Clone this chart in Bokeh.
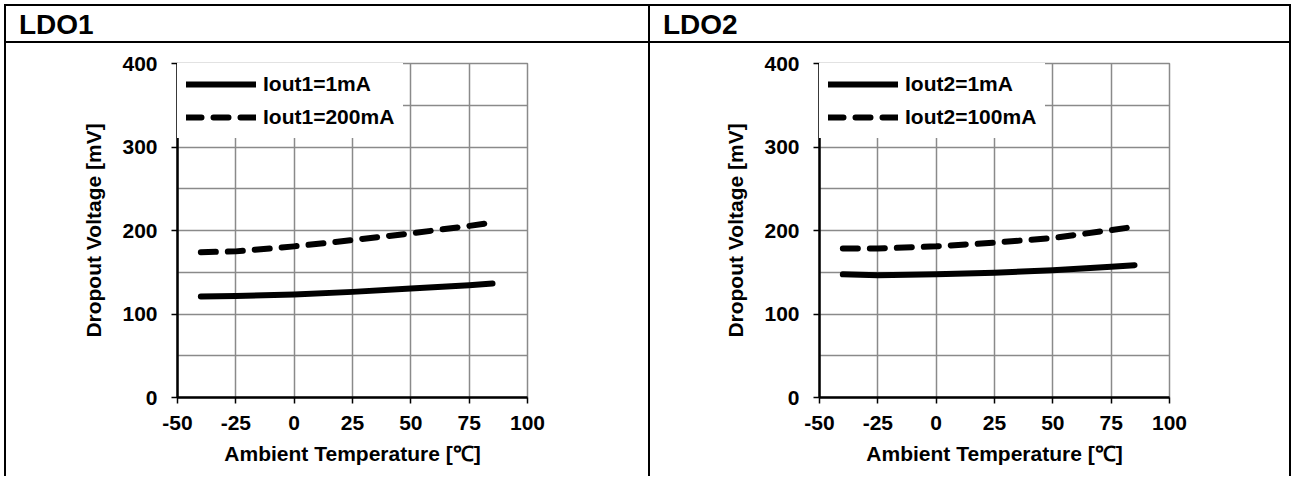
from bokeh.plotting import figure
from bokeh.models import (Range1d, SingleIntervalTicker, FixedTicker, Div, Legend, LegendItem,
                          CustomJSTickFormatter, Spacer)
from bokeh.layouts import row, column
from bokeh.embed import file_html
from bokeh.resources import INLINE

# ---------------- data ----------------
temps = [-40, -25, 0, 25, 50, 75, 85]
ldo1_1mA = [121, 121.5, 123.5, 126.5, 130.5, 134.5, 136.5]
ldo1_200mA = [174, 175, 181, 188.5, 196.5, 205.5, 209.5]
ldo2_1mA = [147.5, 146.5, 147.5, 149.5, 152.5, 156.5, 158.5]
ldo2_100mA = [178.5, 178.5, 181, 185.5, 191, 200.5, 204.5]

titles = ["LDO1", "LDO2"]
labels1 = ["Iout1=1mA", "Iout1=200mA"]
labels2 = ["Iout2=1mA", "Iout2=100mA"]
x_ticks = [-50, -25, 0, 25, 50, 75, 100]
y_ticks = [0, 100, 200, 300, 400]

FONT = "Liberation Sans"
GRID = "#8a8a8a"
FIG_H = 433


def make_fig(width, left, y_solid, y_dash, labels):
    p = figure(width=width, height=FIG_H, output_backend="svg", toolbar_location=None,
               x_range=Range1d(-50, 100), y_range=Range1d(0, 400),
               min_border_left=left, min_border_right=width - left - 350,
               min_border_top=20, min_border_bottom=FIG_H - 20 - 334, margin=0)
    p.outline_line_color = GRID
    p.outline_line_width = 1.5
    p.background_fill_color = "white"
    p.border_fill_color = "white"

    p.xaxis.ticker = FixedTicker(ticks=x_ticks)
    p.yaxis.ticker = FixedTicker(ticks=y_ticks)
    fmt = "return tick.toFixed(0);"
    p.xaxis.formatter = CustomJSTickFormatter(code=fmt)
    p.yaxis.formatter = CustomJSTickFormatter(code=fmt)
    p.xgrid.ticker = SingleIntervalTicker(interval=25)
    p.ygrid.ticker = SingleIntervalTicker(interval=50)
    for g in (p.xgrid, p.ygrid):
        g.grid_line_color = GRID
        g.grid_line_width = 1.5

    for ax in (p.xaxis, p.yaxis):
        ax.axis_line_color = "black"
        ax.axis_line_width = 2.5
        ax.major_tick_line_color = "black"
        ax.major_tick_line_width = 1.5
        ax.major_tick_out = 6
        ax.major_tick_in = 0
        ax.minor_tick_line_color = None
        ax.major_label_text_font = FONT
        ax.major_label_text_font_style = "bold"
        ax.major_label_text_font_size = "21px"
        ax.major_label_text_color = "black"
        ax.axis_label_text_font = FONT
        ax.axis_label_text_font_style = "bold"
        ax.axis_label_text_font_size = "21px"
        ax.axis_label_text_color = "black"
    p.yaxis.major_label_standoff = 14
    p.xaxis.major_label_standoff = 12
    p.yaxis.axis_label_standoff = 14
    p.xaxis.axis_label_standoff = 9
    p.xaxis.axis_label = "Ambient Temperature [\u2103]"
    p.yaxis.axis_label = "Dropout Voltage [mV]"

    r1 = p.line(temps, y_solid, line_color="black", line_width=6, line_cap="round", line_join="round")
    r2 = p.line(temps, y_dash, line_color="black", line_width=6, line_cap="round",
                line_join="round", line_dash="15 12")

    leg = Legend(items=[LegendItem(label=labels[0], renderers=[r1]),
                        LegendItem(label=labels[1], renderers=[r2])],
                 location="top_left", margin=0, padding=0, spacing=9,
                 glyph_width=70, glyph_height=22, label_standoff=7,
                 label_text_font=FONT, label_text_font_style="bold",
                 label_text_font_size="21px", label_text_color="black",
                 border_line_color="white", border_line_width=9,
                 background_fill_color="white", background_fill_alpha=1.0)
    p.add_layout(leg)
    return p


def vline(h):
    return Div(text="", width=2, height=h, margin=0, styles={"background-color": "black"})


def hline(w):
    return Div(text="", width=w, height=2, margin=0, styles={"background-color": "black"})


def header(text, w):
    html = ('<div style="font-family:\'Liberation Sans\';font-weight:bold;font-size:28px;'
            'line-height:32px;padding-top:3px;padding-left:13px;color:black;">%s</div>' % text)
    return Div(text=html, width=w, height=35, margin=0)


W1, W2 = 642, 639
fig1 = make_fig(W1, 171, ldo1_1mA, ldo1_200mA, labels1)
fig2 = make_fig(W2, 169, ldo2_1mA, ldo2_100mA, labels2)

total_w = 2 + W1 + 2 + W2 + 2
table = column(
    hline(total_w),
    row(vline(35), header(titles[0], W1), vline(35), header(titles[1], W2), vline(35),
        spacing=0, margin=0),
    hline(total_w),
    row(vline(FIG_H), fig1, vline(FIG_H), fig2, vline(FIG_H), spacing=0, margin=0),
    spacing=0, margin=0,
)
layout = column(Spacer(width=10, height=4, margin=0),
                row(Spacer(width=4, height=10, margin=0), table, spacing=0, margin=0),
                spacing=0, margin=0)

open("out.html", "w").write(file_html(layout, INLINE))
